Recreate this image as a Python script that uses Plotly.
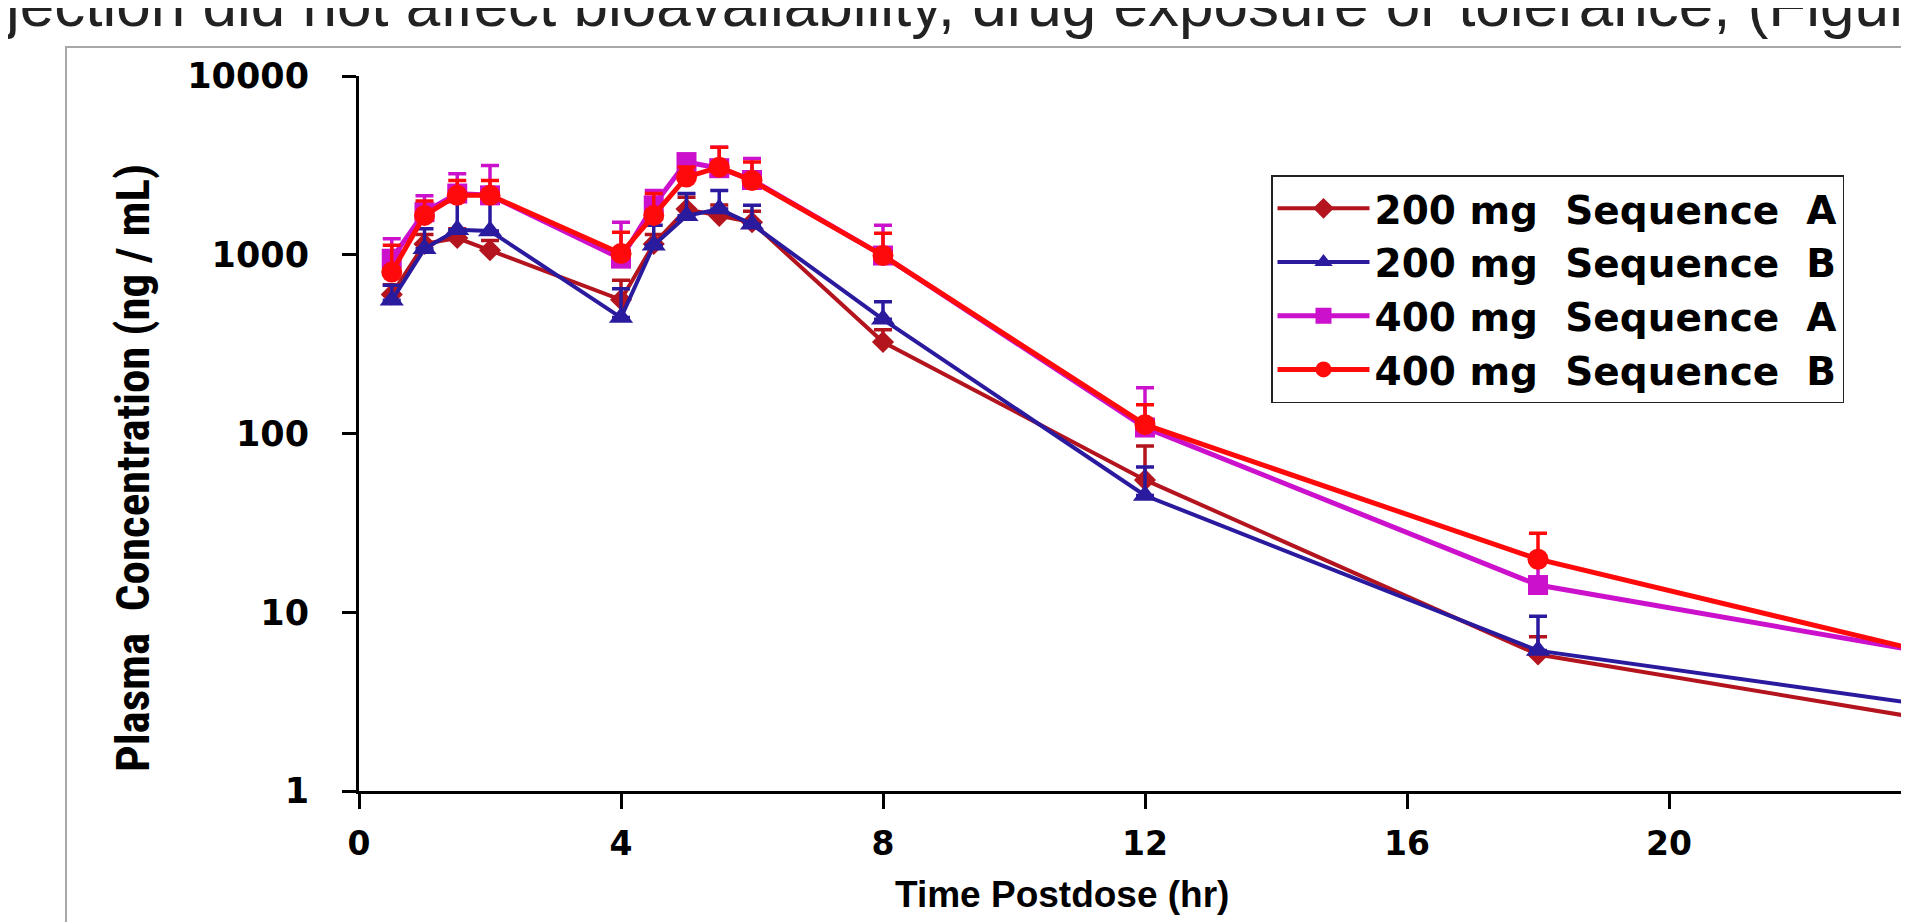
import plotly.graph_objects as go

# ---- data ----
time_hr = [0.5, 1, 1.5, 2, 4, 4.5, 5, 5.5, 6, 8, 12, 18, 24]

conc_200A = [600, 1150, 1240, 1060, 560, 1150, 1800, 1650, 1520, 325, 55, 5.8, 2.5]
sd_200A = [80, 150, 160, 140, 160, 150, 300, 250, 230, 55, 30, 1.5, 0.3]

conc_200B = [556, 1080, 1380, 1360, 445, 1130, 1650, 1800, 1480, 435, 45, 6.1, 3.0]
sd_200B = [120, 320, 700, 800, 200, 330, 550, 490, 410, 110, 20, 3.4, 0.45]

conc_400A = [950, 1730, 2200, 2150, 951, 1890, 3300, 3050, 2620, 990, 108, 14.2, 5.9]
sd_400A = [280, 410, 640, 1010, 570, 400, 300, 950, 830, 470, 72, 6, 3.6]

conc_400B = [800, 1660, 2150, 2150, 1016, 1660, 2720, 3090, 2600, 990, 112, 19.8, 5.9]
sd_400B = [330, 340, 450, 450, 320, 540, 380, 900, 700, 330, 33, 7.9, 2.1]

series_names = ["200 mg  Sequence  A", "200 mg  Sequence  B",
                "400 mg  Sequence  A", "400 mg  Sequence  B"]
series_colors = ["#B3141E", "#2A1A9E", "#CC11CC", "#FF0A0A"]
series_symbols = ["diamond", "triangle-up", "square", "circle"]
series_sizes = [17, 21, 20, 21]
series_widths = [4, 4, 5, 5]

x_tick_vals = [0, 4, 8, 12, 16, 20, 24]
x_tick_text = ["0", "4", "8", "12", "16", "20", "24"]
y_tick_vals = [1, 10, 100, 1000, 10000]
y_tick_text = ["1", "10", "100", "1000", "10000"]

x_title = "Time Postdose (hr)"
y_title = "Plasma  Concentration (ng / mL)"
top_text = "jection did not affect bioavailability, drug exposure or tolerance, (Figure"

# ---- geometry ----
W, H = 1909, 922
ML, MT, MB = 351, 68, 139
PW = W - ML
PH = H - MT - MB
px_per_hr = 65.5
x_max = PW / px_per_hr

def paper_x(px):
    return (px - ML) / PW

def paper_y(py):
    return (H - MB - py) / PH

x_tick_font = dict(family="DejaVu Sans", size=33, color="black", weight="bold")
y_tick_font = dict(family="DejaVu Sans", size=35, color="black", weight="bold")

fig = go.Figure()
concs = [conc_200A, conc_200B, conc_400A, conc_400B]
sds = [sd_200A, sd_200B, sd_400A, sd_400B]
for name, c, sd, col, sym, sz, lw in zip(series_names, concs, sds, series_colors,
                                          series_symbols, series_sizes, series_widths):
    fig.add_trace(go.Scatter(
        x=time_hr, y=c, name=name, mode="lines+markers",
        line=dict(color=col, width=lw),
        marker=dict(symbol=sym, size=sz, color=col, line=dict(width=0)),
        error_y=dict(type="data", symmetric=False, array=sd,
                     arrayminus=[0] * len(sd), color=col, thickness=3.5, width=9),
        cliponaxis=False,
    ))

fig.update_layout(
    width=W, height=H,
    margin=dict(l=ML, r=0, t=MT, b=MB, pad=0),
    paper_bgcolor="white", plot_bgcolor="white",
    showlegend=True,
    legend=dict(
        x=paper_x(1263), y=paper_y(167), xanchor="left", yanchor="top",
        bgcolor="white", bordercolor="#222222", borderwidth=1.5,
        font=dict(family="DejaVu Sans", size=39, color="black", weight="bold"),
        itemwidth=92, tracegroupgap=0,
    ),
    xaxis=dict(
        range=[0, x_max], showgrid=False, zeroline=False,
        showline=True, linecolor="black", linewidth=3,
        ticks="outside", ticklen=15, tickwidth=3, tickcolor="black",
        tickmode="array", tickvals=x_tick_vals[:-1], ticktext=x_tick_text[:-1],
        tickfont=x_tick_font, ticklabelstandoff=6,
    ),
    yaxis=dict(
        type="log", range=[0, 4], showgrid=False, zeroline=False,
        showline=True, linecolor="black", linewidth=3,
        ticks="outside", ticklen=14, tickwidth=3, tickcolor="black",
        tickmode="array", tickvals=y_tick_vals, ticktext=y_tick_text,
        tickfont=y_tick_font, ticklabelstandoff=26,
    ),
    shapes=[dict(type="rect", xref="paper", yref="paper",
                 x0=paper_x(58), x1=1.3, y0=-0.6, y1=paper_y(39),
                 line=dict(color="#A8A8A8", width=2), fillcolor="rgba(0,0,0,0)",
                 layer="below")],
    annotations=[
        dict(text=y_title, xref="paper", yref="paper", x=paper_x(124), y=paper_y(460),
             xanchor="center", yanchor="middle", textangle=-90, showarrow=False,
             font=dict(family="Liberation Sans Narrow, Roboto Condensed, Liberation Sans, Arial",
                       size=47, color="black", weight="bold")),
        dict(text=x_title, xref="paper", yref="paper", x=paper_x(1054), y=paper_y(886),
             xanchor="center", yanchor="middle", showarrow=False,
             font=dict(family="Liberation Sans, Arial", size=37, color="black", weight="bold")),
        dict(text=x_tick_text[-1], xref="paper", yref="paper",
             x=paper_x(ML + x_tick_vals[-1] * px_per_hr), y=paper_y(822), xshift=-9,
             xanchor="center", yanchor="middle", showarrow=False, font=x_tick_font),
        dict(text=top_text, xref="paper", yref="paper", x=paper_x(-6), y=paper_y(-4),
             xanchor="left", yanchor="middle", showarrow=False,
             font=dict(family="Liberation Sans, Arial", size=62, color="#222222")),
    ],
)

fig.write_html("out.html", config={"displayModeBar": False})
